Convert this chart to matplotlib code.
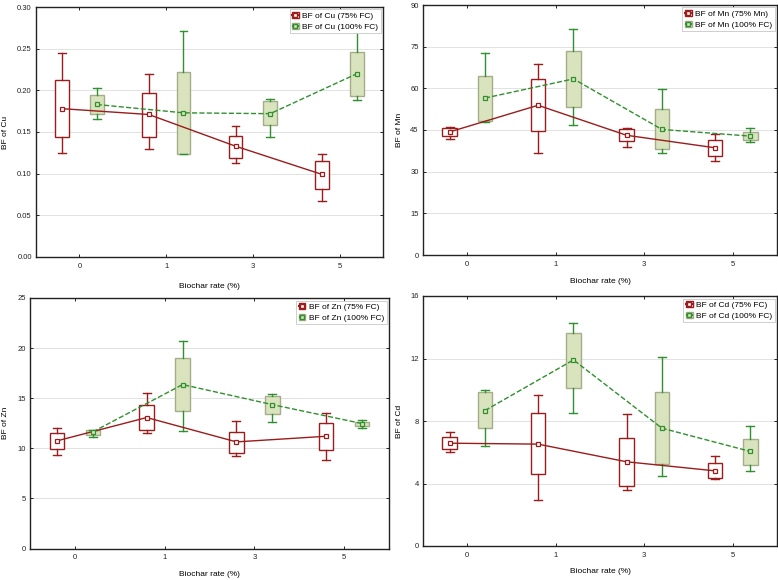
import matplotlib
matplotlib.use("Agg")
import matplotlib.pyplot as plt
from matplotlib.patches import Patch
from matplotlib.lines import Line2D

plt.rcParams['font.family'] = ['Liberation Sans', 'DejaVu Sans']

categories = ["0", "1", "3", "5"]
xlabel = "Biochar rate (%)"

# Each series: mean, box low, box high, whisker low, whisker high (per category)
cu_75_mean = [0.178, 0.171, 0.133, 0.099]
cu_75_q1 = [0.144, 0.144, 0.119, 0.082]
cu_75_q3 = [0.213, 0.197, 0.145, 0.115]
cu_75_lo = [0.125, 0.129, 0.113, 0.067]
cu_75_hi = [0.245, 0.220, 0.157, 0.123]
cu_100_mean = [0.183, 0.173, 0.172, 0.220]
cu_100_q1 = [0.172, 0.124, 0.158, 0.193]
cu_100_q3 = [0.194, 0.222, 0.187, 0.246]
cu_100_lo = [0.165, 0.123, 0.144, 0.188]
cu_100_hi = [0.203, 0.271, 0.190, 0.272]

mn_75_mean = [44.3, 53.9, 43.1, 38.6]
mn_75_q1 = [43.0, 44.5, 40.9, 35.8]
mn_75_q3 = [45.8, 63.2, 45.2, 41.3]
mn_75_lo = [41.8, 36.6, 38.8, 33.8]
mn_75_hi = [46.0, 68.6, 45.6, 43.4]
mn_100_mean = [56.5, 63.4, 45.2, 42.8]
mn_100_q1 = [48.1, 53.4, 38.0, 41.3]
mn_100_q3 = [64.6, 73.6, 52.6, 44.2]
mn_100_lo = [47.9, 46.8, 36.7, 40.8]
mn_100_hi = [72.8, 81.4, 59.6, 45.8]

zn_75_mean = [10.74, 13.07, 10.64, 11.2]
zn_75_q1 = [9.97, 11.8, 9.5, 9.84]
zn_75_q3 = [11.5, 14.3, 11.6, 12.53]
zn_75_lo = [9.37, 11.57, 9.24, 8.88]
zn_75_hi = [12.03, 15.5, 12.73, 13.5]
zn_100_mean = [11.64, 16.36, 14.36, 12.47]
zn_100_q1 = [11.37, 13.73, 13.43, 12.27]
zn_100_q3 = [11.87, 18.98, 15.19, 12.67]
zn_100_lo = [11.17, 11.7, 12.63, 12.07]
zn_100_hi = [11.87, 20.68, 15.46, 12.8]

cd_75_mean = [6.58, 6.52, 5.39, 4.81]
cd_75_q1 = [6.24, 4.58, 3.86, 4.35]
cd_75_q3 = [6.97, 8.5, 6.92, 5.33]
cd_75_lo = [5.99, 2.96, 3.6, 4.3]
cd_75_hi = [7.29, 9.69, 8.48, 5.77]
cd_100_mean = [8.67, 11.91, 7.54, 6.05]
cd_100_q1 = [7.56, 10.14, 5.24, 5.16]
cd_100_q3 = [9.84, 13.63, 9.86, 6.88]
cd_100_lo = [6.43, 8.5, 4.47, 4.77]
cd_100_hi = [9.99, 14.3, 12.1, 7.69]

RED = '#9b1c1c'
GREEN = '#2e902e'
GFACE = '#d9e3bd'
GEDGE = '#a3ad88'

panels = [
    dict(rect=[36/778, 1-257/580, 347/778, 250/580], ylabel="BF of Cu",
         ylim=(0, 0.30), yticks=[0, 0.05, 0.10, 0.15, 0.20, 0.25, 0.30], fmt="{:.2f}",
         labels=("BF of Cu (75% FC)", "BF of Cu (100% FC)"),
         s75=(cu_75_mean, cu_75_q1, cu_75_q3, cu_75_lo, cu_75_hi),
         s100=(cu_100_mean, cu_100_q1, cu_100_q3, cu_100_lo, cu_100_hi),
         ylc=-0.078, xlc=-0.104),
    dict(rect=[423/778, 1-255/580, 354/778, 250/580], ylabel="BF of Mn",
         ylim=(0, 90), yticks=[0, 15, 30, 45, 60, 75, 90], fmt="{:.0f}",
         labels=("BF of Mn (75% Mn)", "BF of Mn (100% FC)"),
         s75=(mn_75_mean, mn_75_q1, mn_75_q3, mn_75_lo, mn_75_hi),
         s100=(mn_100_mean, mn_100_q1, mn_100_q3, mn_100_lo, mn_100_hi),
         ylc=-0.0565, xlc=-0.092),
    dict(rect=[30/778, 1-548.5/580, 359/778, 250.5/580], ylabel="BF of Zn",
         ylim=(0, 25), yticks=[0, 5, 10, 15, 20, 25], fmt="{:.0f}",
         labels=("BF of Zn (75% FC)", "BF of Zn (100% FC)"),
         s75=(zn_75_mean, zn_75_q1, zn_75_q3, zn_75_lo, zn_75_hi),
         s100=(zn_100_mean, zn_100_q1, zn_100_q3, zn_100_lo, zn_100_hi),
         ylc=-0.0585, xlc=-0.09),
    dict(rect=[423/778, 1-546/580, 354/778, 250/580], ylabel="BF of Cd",
         ylim=(0, 16), yticks=[0, 4, 8, 12, 16], fmt="{:.0f}",
         labels=("BF of Cd (75% FC)", "BF of Cd (100% FC)"),
         s75=(cd_75_mean, cd_75_q1, cd_75_q3, cd_75_lo, cd_75_hi),
         s100=(cd_100_mean, cd_100_q1, cd_100_q3, cd_100_lo, cd_100_hi),
         ylc=-0.0565, xlc=-0.088),
]

fig = plt.figure(figsize=(7.78, 5.80), dpi=100)

off = 0.2
bw = 0.16
cw = 0.09

def draw_series(ax, s, positions, face, edge, lcolor, ls, mface):
    mean, q1, q3, lo, hi = s
    stats = [dict(med=m, q1=a, q3=b, whislo=l, whishi=h, mean=m, fliers=[])
             for m, a, b, l, h in zip(mean, q1, q3, lo, hi)]
    ax.bxp(stats, positions=positions, widths=bw, capwidths=cw, patch_artist=True,
           showmeans=False, showfliers=False, manage_ticks=False,
           boxprops=dict(facecolor=face, edgecolor=edge, linewidth=1.0),
           whiskerprops=dict(color=lcolor, linewidth=1.0),
           capprops=dict(color=lcolor, linewidth=1.0),
           medianprops=dict(linewidth=0, alpha=0))
    ax.plot(positions, mean, color=lcolor, linestyle=ls, linewidth=1.0,
            marker='s', markersize=3.2, markerfacecolor=mface,
            markeredgecolor=lcolor, markeredgewidth=0.9, zorder=5)

for p in panels:
    ax = fig.add_axes(p['rect'])
    x = list(range(len(categories)))
    ax.set_xlim(-0.5, 3.5)
    ax.set_ylim(*p['ylim'])
    ax.set_yticks(p['yticks'])
    ax.set_yticklabels([p['fmt'].format(v) for v in p['yticks']])
    ax.set_xticks(x)
    ax.set_xticklabels(categories)
    ax.grid(axis='y', color='#e2e2e2', linewidth=0.7)
    ax.set_axisbelow(True)
    for sp in ax.spines.values():
        sp.set_color('#222222')
        sp.set_linewidth(1.0)
    ax.tick_params(direction='in', top=True, right=True, length=2, width=0.7,
                   labelsize=5.5, pad=3, colors='#222222')
    ax.tick_params(axis='x', pad=4)
    draw_series(ax, p['s75'], [v - off for v in x], 'white', RED, RED, '-', 'white')
    draw_series(ax, p['s100'], [v + off for v in x], GFACE, GEDGE, GREEN, '--', GFACE)
    ax.set_ylabel(p['ylabel'], fontsize=6)
    ax.yaxis.set_label_coords(p['ylc'], 0.5)
    ax.set_xlabel(xlabel, fontsize=6)
    ax.xaxis.set_label_coords(0.5, p['xlc'])
    h75 = (Patch(facecolor='white', edgecolor=RED, linewidth=1.0),
           Line2D([], [], color=RED, marker='s', markersize=2.5, markerfacecolor='white',
                  markeredgecolor=RED, linestyle='-'))
    h100 = (Patch(facecolor=GFACE, edgecolor=GEDGE, linewidth=1.0),
            Line2D([], [], color=GREEN, marker='s', markersize=2.5, markerfacecolor=GFACE,
                   markeredgecolor=GREEN, linestyle='--'))
    leg = ax.legend([h75, h100], list(p['labels']), loc='upper right', fontsize=6,
                    frameon=True, fancybox=False, edgecolor='#c8c8c8', framealpha=1,
                    handlelength=0.8, handleheight=0.8, handletextpad=0.4,
                    borderpad=0.3, labelspacing=0.3, borderaxespad=0.3)
    leg.get_frame().set_linewidth(0.6)

fig.savefig("out.png", dpi=100)
